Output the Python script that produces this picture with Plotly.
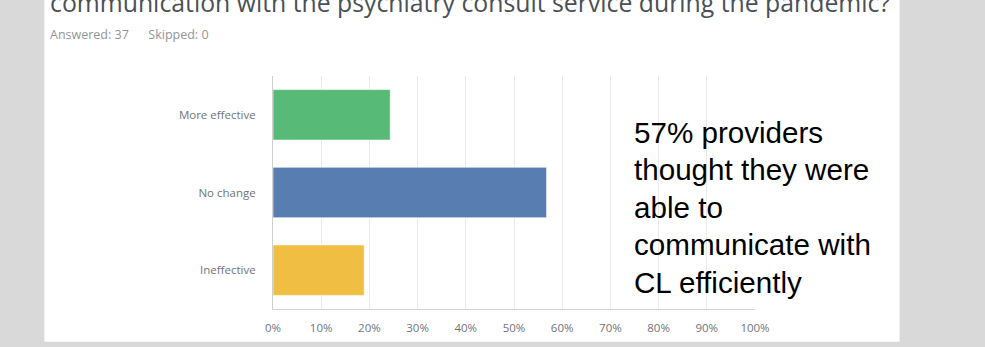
import plotly.graph_objects as go

# Survey responses (share of 37 respondents)
categories = ["More effective", "No change", "Ineffective"]
shares = [24.32, 56.76, 18.92]
bar_colors = ["#57bb77", "#587db0", "#f0be42"]
x_ticks = [0, 10, 20, 30, 40, 50, 60, 70, 80, 90, 100]
x_tick_labels = [f"{v}%" for v in x_ticks]

title_text = "communication with the psychiatry consult service during the pandemic?"
stats_text = "Answered: 37&nbsp;&nbsp;&nbsp;&nbsp;&nbsp;&nbsp;Skipped: 0"
note_lines = ["57% providers", "thought they were", "able to", "communicate with", "CL efficiently"]

W, H = 985, 347
PL, PR, PT, PB = 273.3, 754.6, 76.0, 312.3  # plot area in pixels


def px_x(px):
    return (px - PL) / (PR - PL)


def px_y(py):
    return (PB - py) / (PB - PT)


fig = go.Figure(
    go.Bar(
        y=categories,
        x=shares,
        orientation="h",
        marker=dict(color=bar_colors, line=dict(color="rgba(255,255,255,0.6)", width=1)),
        width=0.65,
        hoverinfo="skip",
    )
)

# White card behind the chart
fig.add_shape(
    type="rect", xref="paper", yref="paper",
    x0=px_x(45), x1=px_x(899), y0=px_y(345.5), y1=px_y(-5),
    fillcolor="white", line=dict(width=0), layer="below",
)

annotations = [
    dict(text=title_text, x=px_x(49), y=px_y(1), xanchor="left", yanchor="middle",
         font=dict(family="Open Sans", size=24.8, color="#4a5057")),
    dict(text=stats_text, x=px_x(49), y=px_y(34), xanchor="left", yanchor="middle",
         font=dict(family="Open Sans", size=12.5, color="#8f959b")),
]
baselines = [143, 181, 219, 257, 295]
for line, base in zip(note_lines, baselines):
    annotations.append(dict(
        text=line, x=px_x(632), y=px_y(base - 10), xanchor="left", yanchor="middle",
        font=dict(family="Liberation Sans, Arial", size=29.6, color="#000000"),
    ))
for a in annotations:
    a.update(xref="paper", yref="paper", showarrow=False)

fig.update_layout(
    width=W, height=H,
    margin=dict(l=PL, r=W - PR, t=PT, b=H - PB, pad=0),
    paper_bgcolor="#d9d9d9",
    plot_bgcolor="white",
    showlegend=False,
    annotations=annotations,
    bargap=0.35,
    xaxis=dict(
        range=[0, 100], tickvals=x_ticks, ticktext=x_tick_labels,
        showgrid=True, gridcolor="#eaeaea", gridwidth=1,
        zeroline=False, showline=True, linecolor="#d4d4d4", linewidth=1,
        ticks="outside", ticklen=8, tickcolor="rgba(0,0,0,0)",
        tickfont=dict(family="Open Sans", size=11.5, color="#6f747a"),
        fixedrange=True,
    ),
    yaxis=dict(
        categoryorder="array", categoryarray=categories[::-1],
        showgrid=False, zeroline=False, showline=True, linecolor="#cfcfcf", linewidth=1,
        ticks="outside", ticklen=14, tickcolor="rgba(0,0,0,0)",
        tickfont=dict(family="Open Sans", size=11.5, color="#6f747a"),
        fixedrange=True,
    ),
)

fig.write_html("out.html", config={"displayModeBar": False})
